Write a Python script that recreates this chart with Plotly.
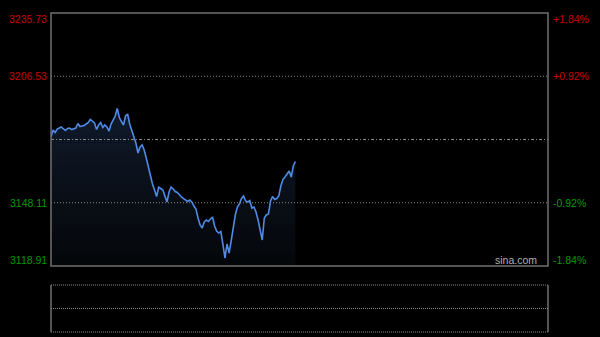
import plotly.graph_objects as go

# ---- data ----
minute_index = list(range(119))
prices = [
    3178.47, 3181.70, 3180.55, 3182.17, 3182.63, 3183.09, 3182.17, 3181.47, 3182.40, 3182.63,
    3181.93, 3182.17, 3182.63, 3184.71, 3183.32, 3183.55, 3183.78, 3184.47, 3185.17, 3186.55,
    3185.86, 3184.94, 3181.93, 3184.01, 3185.17, 3182.86, 3184.01, 3183.09, 3181.24, 3184.47,
    3186.32, 3188.17, 3191.63, 3187.48, 3185.63, 3184.01, 3188.17, 3189.09, 3184.47, 3181.24,
    3178.47, 3175.70, 3171.08, 3173.85, 3174.78, 3172.47, 3168.78, 3164.62, 3161.85, 3156.77,
    3154.00, 3151.00, 3155.38, 3154.46, 3154.00, 3151.23, 3148.46, 3153.08, 3155.38, 3154.46,
    3153.31, 3152.85, 3151.69, 3150.77, 3150.07, 3149.15, 3148.69, 3149.38, 3148.46, 3146.61,
    3145.23, 3141.07, 3137.84, 3136.45, 3139.22, 3140.15, 3139.45, 3140.61, 3141.53, 3137.38,
    3135.07, 3134.14, 3134.84, 3129.07, 3122.60, 3129.07, 3124.91, 3130.45, 3137.38, 3142.46,
    3146.15, 3147.54, 3150.07, 3151.23, 3148.92, 3148.46, 3149.15, 3145.69, 3146.15, 3143.84,
    3140.15, 3134.61, 3130.91, 3141.07, 3142.46, 3142.92, 3148.92, 3151.00, 3149.61, 3150.07,
    3151.23, 3155.85, 3158.85, 3160.00, 3161.39, 3162.77, 3160.00, 3165.08, 3167.16,
]
prev_close = 3177.32
price_levels = [3235.73, 3206.53, 3148.11, 3118.91]
price_labels = ["3235.73", "3206.53", "3148.11", "3118.91"]
pct_labels = ["+1.84%", "+0.92%", "-0.92%", "-1.84%"]
total_minutes = 240

RED = "#c80000"
GREEN = "#009a00"
GRID = "#8a8a8a"
BORDER = "#707070"

fig = go.Figure()
fig.add_trace(go.Scatter(
    x=minute_index, y=prices, mode="lines",
    line=dict(color="#4f8ae6", width=1.6),
    fill="tozeroy",
    fillgradient=dict(type="vertical", start=price_levels[-1], stop=max(prices),
                      colorscale=[[0, "rgb(4,6,9)"], [1, "rgb(16,26,42)"]]),
    hoverinfo="skip", showlegend=False,
))

main_bottom = (332 - 266) / 319
low_top = (332 - 285) / 319
low_mid = (332 - 308.5) / 319

fig.update_layout(
    width=600, height=337,
    margin=dict(l=51, r=52, t=13, b=5),
    paper_bgcolor="black", plot_bgcolor="black",
    xaxis=dict(range=[0, total_minutes], visible=False, fixedrange=True),
    yaxis=dict(range=[price_levels[-1], price_levels[0]], domain=[main_bottom, 1],
               visible=False, fixedrange=True),
    font=dict(family="Liberation Sans, Arial", size=11),
)

shapes = []
# grid lines
for lv in (price_levels[1], price_levels[2]):
    shapes.append(dict(type="line", xref="paper", yref="y", x0=0, x1=1, y0=lv, y1=lv,
                       line=dict(color=GRID, width=1, dash="1px,2px")))
shapes.append(dict(type="line", xref="paper", yref="y", x0=0, x1=1, y0=prev_close, y1=prev_close,
                   line=dict(color=GRID, width=1, dash="3px,2px,1px,2px")))
# main frame
shapes.append(dict(type="rect", xref="paper", yref="paper", x0=0, x1=1, y0=main_bottom, y1=1,
                   line=dict(color=BORDER, width=1.5)))
# lower panel
for yy in (0, low_top, low_mid):
    shapes.append(dict(type="line", xref="paper", yref="paper", x0=0, x1=1, y0=yy, y1=yy,
                       line=dict(color=GRID, width=1, dash="1px,1px")))
for xx in (0, 1):
    shapes.append(dict(type="line", xref="paper", yref="paper", x0=xx, x1=xx, y0=0, y1=low_top,
                       line=dict(color=BORDER, width=1.5)))
fig.update_layout(shapes=shapes)

ann = []
shifts = [-6, 0, 0, 6]
for lv, lab, pct, sh in zip(price_levels, price_labels, pct_labels, shifts):
    col = RED if lv > prev_close else GREEN
    ann.append(dict(x=0, xref="paper", y=lv, yref="y", text=lab, showarrow=False,
                    xanchor="right", xshift=-2, yshift=sh, font=dict(color=col, size=10.5)))
    ann.append(dict(x=1, xref="paper", y=lv, yref="y", text=pct, showarrow=False,
                    xanchor="left", xshift=3, yshift=sh, font=dict(color=col, size=10.5)))
ann.append(dict(x=1, xref="paper", y=price_levels[-1], yref="y", text="sina.com", showarrow=False,
                xanchor="right", xshift=-9, yshift=6, font=dict(color="#b0b0b0", size=10.5)))
fig.update_layout(annotations=ann)

fig.write_html("out.html")
